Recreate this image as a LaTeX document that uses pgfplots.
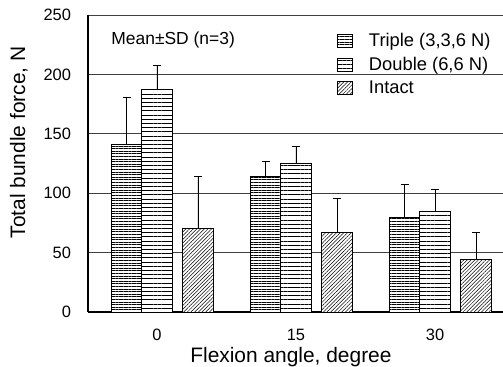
\documentclass[border=0pt]{standalone}
\usepackage{fontspec}
\setmainfont{Liberation Sans}
\usepackage{pgfplots}
\pgfplotsset{compat=1.18}
\usetikzlibrary{patterns.meta}
\newcommand{\tickfont}{\fontsize{16.5}{19}\selectfont}
\newcommand{\labfont}{\fontsize{21}{25}\selectfont}
\begin{document}
\begin{tikzpicture}
\begin{axis}[
  at={(88bp,55bp)}, anchor=south west, scale only axis,
  width=415bp, height=297bp,
  xmin=-0.496, xmax=2.489, ymin=0, ymax=250,
  ytick={0,50,100,150,200,250},
  yticklabels={{\tickfont 0},{\tickfont 50},{\tickfont 100},{\tickfont 150},{\tickfont 200},{\tickfont 250}},
  xtick={0,1,2}, xticklabels={{\tickfont 0},{\tickfont 15},{\tickfont 30}},
  axis x line*=bottom, axis y line*=left,
  axis line style={line width=1.6bp, black},
  ymajorgrids, grid style={line width=0.7bp, black!75},
  tick style={draw=none},
  yticklabel style={anchor=east, xshift=-13.5bp},
  xticklabel style={anchor=north, yshift=-9bp},
  xlabel={\labfont Flexion angle, degree},
  ylabel={\labfont Total bundle force, N},
  xlabel style={at={(axis description cs:0.489,0)}, anchor=base, yshift=-50bp},
  ylabel style={at={(axis description cs:-0.1518,0.571)}, anchor=base},
  ybar, bar shift=0pt, bar width=0.219,
  every axis plot/.append style={draw=black, line width=0.8bp, preaction={fill=white}},
  error bars/y dir=plus, error bars/y explicit,
  error bars/error bar style={line width=0.8bp, black},
  error bars/error mark options={rotate=90, mark size=4bp, line width=0.8bp, black},
  legend image code/.code={\draw[#1] (0bp,-6.5bp) rectangle (15bp,6.5bp);},
  legend style={at={(rel axis cs:0.6,0.945)}, anchor=north west, draw=none, fill=none,
    inner sep=0pt, row sep=5bp, font=\fontsize{18.4}{21}\selectfont,
    /tikz/every odd column/.append style={column sep=14bp}},
  legend cell align=left,
]
\addplot[pattern={Lines[angle=0,distance=2.6bp,line width=0.7bp]}]
  table[x=x, y=y, y error=e] {
x y e
-0.219 141.4 39.3
0.781 114.5 12.0
1.781 79.7 27.8
};
\addlegendentry{Triple (3,3,6 N)}
\addplot[pattern={Lines[angle=0,distance=4.2bp,line width=0.7bp]}]
  table[x=x, y=y, y error=e] {
x y e
0 187.4 20.5
1 124.8 14.3
2 84.7 18.6
};
\addlegendentry{Double (6,6 N)}
\addplot[pattern={Lines[angle=45,distance=2.6bp,line width=0.5bp]}]
  table[x=x, y=y, y error=e] {
x y e
0.295 70.1 44.1
1.295 67.1 28.3
2.295 44.0 23.1
};
\addlegendentry{Intact}
\node[anchor=base west, font=\fontsize{17.5}{21}\selectfont] at (rel axis cs:0.048,0.902) {Mean±SD (n=3)};
\end{axis}
\pgfresetboundingbox
\path (0,0) rectangle (503bp,367bp);
\end{tikzpicture}
\end{document}
